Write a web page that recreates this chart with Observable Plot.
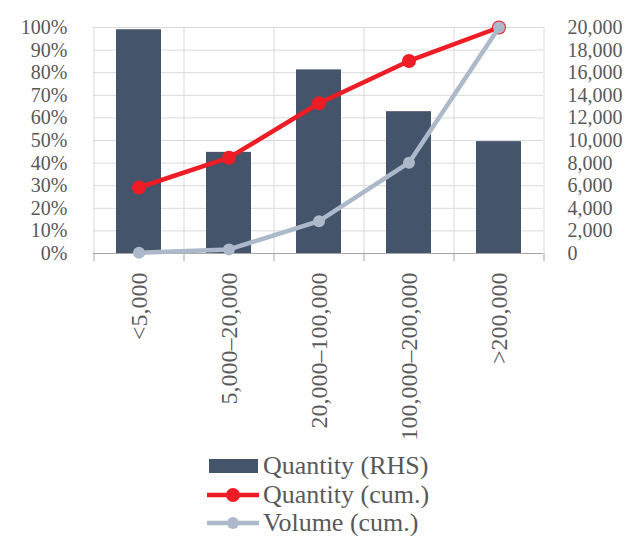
<!DOCTYPE html>
<html>
<head>
<meta charset="utf-8">
<script src="https://cdn.jsdelivr.net/npm/d3@7"></script>
<script src="https://cdn.jsdelivr.net/npm/@observablehq/plot@0.6"></script>
<style>
  body { margin: 0; background: white; font-family: "Liberation Serif", "DejaVu Serif", "Noto Serif", serif; }
  #chart svg { display: block; }
  #legend { position: relative; height: 86px; margin-left: 206px; color: #595959; font-size: 26px; }
  .row { display: flex; align-items: center; height: 28.5px; }
  .row svg { display: block; flex: none; }
  .row span { margin-left: 2px; line-height: 1; white-space: nowrap; }
</style>
</head>
<body>
<div id="chart"></div>
<div id="legend"></div>
<script>
const categories = ["<5,000", "5,000–20,000", "20,000–100,000", "100,000–200,000", ">200,000"];
const quantity = [19800, 8950, 16250, 12550, 9900];      // RHS
const quantityCum = [29.2, 42.4, 66.5, 85.2, 100];        // %
const volumeCum = [0.3, 1.8, 14.3, 40.2, 100];            // %
const leftTicks = [0, 10, 20, 30, 40, 50, 60, 70, 80, 90, 100];
const rhsMax = 20000;

const barColor = "#44546A";
const redColor = "#EE1C25";
const grayColor = "#ADB9CA";
const gridColor = "#D9D9D9";
const textColor = "#595959";
const fontStack = '"Liberation Serif", "DejaVu Serif", "Noto Serif", serif';

const bars = categories.map((c, i) => ({cat: c, v: quantity[i] / rhsMax * 100}));
const qc = categories.map((c, i) => ({cat: c, v: quantityCum[i]}));
const vc = categories.map((c, i) => ({cat: c, v: volumeCum[i]}));

const half = 45;
const chart = Plot.plot({
  width: 638,
  height: 450,
  marginLeft: 93,
  marginRight: 95,
  marginTop: 27,
  marginBottom: 197,
  style: {fontFamily: fontStack, fontSize: "20px", color: textColor, background: "white", overflow: "visible"},
  x: {domain: categories, paddingInner: 0.5, paddingOuter: 0.25, axis: null},
  y: {domain: [0, 100], axis: null},
  marks: [
    Plot.gridY(leftTicks, {stroke: gridColor, strokeOpacity: 1, strokeWidth: 1}),
    Plot.ruleX(categories, {x: d => d, dx: -half, stroke: gridColor, strokeWidth: 1}),
    Plot.ruleX([categories[categories.length - 1]], {x: d => d, dx: half, stroke: gridColor, strokeWidth: 1}),
    Plot.barY(bars, {x: "cat", y: "v", fill: barColor}),
    Plot.ruleY([0], {stroke: "#A6A6A6", strokeWidth: 1}),
    Plot.ruleX(categories, {x: d => d, dx: -half, y1: 0, y2: 0, insetBottom: -8, stroke: "#A6A6A6"}),
    Plot.ruleX([categories[categories.length - 1]], {x: d => d, dx: half, y1: 0, y2: 0, insetBottom: -8, stroke: "#A6A6A6"}),
    Plot.line(qc, {x: "cat", y: "v", stroke: redColor, strokeWidth: 4.5}),
    Plot.dot(qc, {x: "cat", y: "v", r: 7, fill: redColor}),
    Plot.line(vc, {x: "cat", y: "v", stroke: grayColor, strokeWidth: 4.5}),
    Plot.dot(vc, {x: "cat", y: "v", r: 6, fill: grayColor}),
    Plot.axisY(leftTicks, {anchor: "left", label: null, tickSize: 0, tickPadding: 26, tickFormat: d => d + "%", fill: textColor, fontFamily: fontStack, fontSize: 20}),
    Plot.axisY(leftTicks, {anchor: "right", label: null, tickSize: 0, tickPadding: 24, tickFormat: d => d3.format(",")(Math.round(d / 100 * rhsMax)), fill: textColor, fontFamily: fontStack, fontSize: 20}),
    Plot.axisX({anchor: "bottom", label: null, tickSize: 0, tickPadding: 19, tickRotate: -90, fill: textColor, fontFamily: fontStack, fontSize: 24})
  ]
});
document.getElementById("chart").appendChild(chart);

const legendItems = [
  {label: "Quantity (RHS)", type: "bar", color: barColor},
  {label: "Quantity (cum.)", type: "line", color: redColor, r: 7},
  {label: "Volume (cum.)", type: "line", color: grayColor, r: 6}
];
const legend = document.getElementById("legend");
legend.style.paddingTop = "2px";
for (const item of legendItems) {
  const row = document.createElement("div");
  row.className = "row";
  const sw = item.type === "bar"
    ? `<svg width="55" height="20"><rect x="3" y="3" width="49" height="14" fill="${item.color}"/></svg>`
    : `<svg width="55" height="20"><line x1="1" x2="53" y1="10" y2="10" stroke="${item.color}" stroke-width="4.5"/><circle cx="27" cy="10" r="${item.r}" fill="${item.color}"/></svg>`;
  row.innerHTML = sw + `<span>${item.label}</span>`;
  legend.appendChild(row);
}
</script>
</body>
</html>
